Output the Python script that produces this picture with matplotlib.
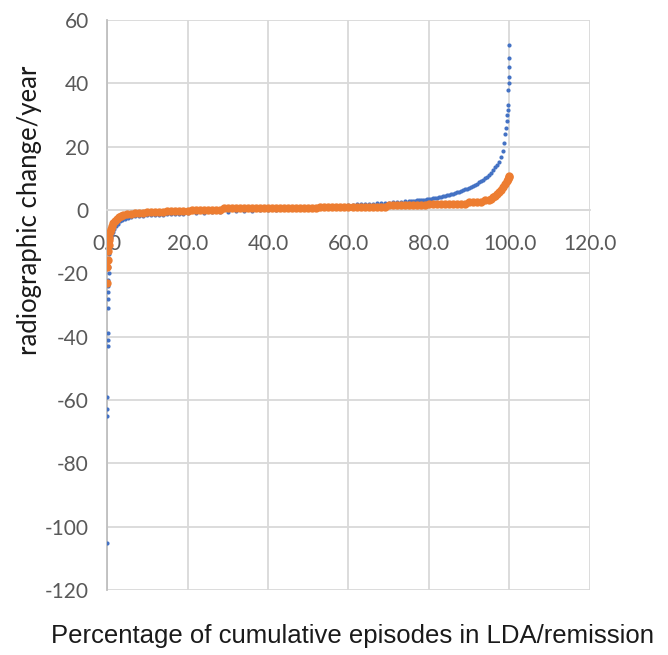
import matplotlib
matplotlib.use("Agg")
import matplotlib.pyplot as plt

plt.rcParams['axes.unicode_minus'] = False

# ---------------- data ----------------
x_ticks = [0, 20, 40, 60, 80, 100, 120]
y_ticks = [-120, -100, -80, -60, -40, -20, 0, 20, 40, 60]

blue_pct = [0.00, 0.05, 0.08, 0.11, 0.14, 0.17, 0.20, 0.23, 0.26, 0.29, 0.32, 0.36, 0.40,
            0.45, 0.50, 0.60, 0.70, 0.80, 1.0, 1.2, 1.5, 1.8, 2.2, 2.7, 3.2, 3.8, 4.5,
            5.2, 6.0, 7, 8, 9, 10, 11, 12, 13, 14, 15, 16, 17, 18, 19, 20, 22, 24, 26,
            28, 30, 32, 34, 36, 38, 40, 42, 44, 46, 48, 50, 52, 54, 56, 58, 60, 61, 62,
            63, 64, 65, 66, 67, 68, 69, 70, 71, 72, 73, 74, 75, 75.5, 76, 76.5, 77, 77.5,
            78, 78.5, 79, 79.5, 80, 80.5, 81, 81.5, 82, 82.5, 83, 83.5, 84, 84.5, 85,
            85.5, 86, 86.5, 87, 87.5, 88, 88.5, 89, 89.5, 90, 90.5, 91, 91.5, 92, 92.5,
            93, 93.5, 94, 94.5, 95, 95.5, 96, 96.5, 97, 97.5, 98, 98.3, 98.6, 98.9, 99.1,
            99.3, 99.45, 99.55, 99.65, 99.75, 99.82, 99.88, 99.93, 99.97, 100]
blue_val = [-105, -65, -63, -59, -43, -41, -39, -31, -28, -26, -24, -22, -20,
            -18, -16, -14, -12, -10.5, -9, -8, -7, -6, -5, -4.3, -3.6, -3.1, -2.7,
            -2.4, -2.2, -2.0, -1.85, -1.75, -1.65, -1.6, -1.55, -1.5, -1.45, -1.4, -1.35, -1.3, -1.25, -1.2, -1.1, -0.9, -0.8, -0.7,
            -0.6, -0.5, -0.4, -0.3, -0.2, -0.1, 0.0, 0.1, 0.2, 0.3, 0.4, 0.6, 0.8, 1.0, 1.2, 1.4, 1.6, 1.7, 1.8,
            1.9, 1.95, 2.0, 2.05, 2.1, 2.15, 2.2, 2.3, 2.4, 2.5, 2.6, 2.7, 2.8, 2.85, 2.9, 2.95, 3.0, 3.05,
            3.1, 3.2, 3.3, 3.4, 3.5, 3.6, 3.7, 3.8, 3.9, 4.0, 4.15, 4.3, 4.45, 4.6, 4.8,
            5.0, 5.2, 5.4, 5.6, 5.8, 6.0, 6.25, 6.5, 6.75, 7.0, 7.3, 7.6, 7.9, 8.3, 8.7,
            9.1, 9.5, 10.0, 10.5, 11.1, 11.8, 12.6, 13.5, 14.3, 15.3, 16.8, 18.5, 21, 24, 26,
            28, 30, 31.5, 33, 38, 40, 42, 45, 48, 52]

orange_pct = [0.0, 0.1, 0.2, 0.3, 0.4, 0.5, 0.6, 0.8, 1.0, 1.3, 1.6, 2.0, 2.5, 3.0, 3.5, 4.0,
              5, 6, 7, 8, 9, 10, 11, 12, 13, 14, 15, 16, 17, 18, 19, 20,
              21, 22, 23, 24, 25, 26, 27, 28,
              29, 30, 31, 32, 33, 34, 35, 36, 37, 38, 39, 40, 41, 42, 43, 44, 45, 46, 47, 48,
              49, 50, 51, 52,
              53, 54, 55, 56, 57, 58, 59, 60, 61, 62, 63, 64, 65, 66, 67, 68, 69,
              70, 71, 72, 73, 74, 75, 76, 77, 78, 79,
              80, 81, 82, 83, 84, 85, 86, 87, 88, 89,
              90, 91, 92, 93, 94, 95, 95.5, 96, 96.5, 97, 97.5, 98, 98.5, 99, 99.3, 99.6, 99.8, 100]
orange_val = [-23, -18, -15.8, -13, -11, -9.5, -8.5, -7, -6, -5, -4.2, -3.5, -2.8, -2.3, -2.0, -1.7,
              -1.4, -1.2, -1.0, -0.9, -0.8, -0.7, -0.65, -0.6, -0.55, -0.5, -0.45, -0.4, -0.35, -0.3, -0.25, -0.2,
              0.0, 0.0, 0.0, 0.0, 0.0, 0.0, 0.0, 0.0,
              0.5, 0.5, 0.5, 0.5, 0.5, 0.5, 0.5, 0.5, 0.5, 0.5, 0.5, 0.5, 0.5, 0.5, 0.5, 0.5, 0.5, 0.5, 0.5, 0.5,
              0.5, 0.5, 0.5, 0.5,
              1.0, 1.0, 1.0, 1.0, 1.0, 1.0, 1.0, 1.0, 1.0, 1.0, 1.0, 1.0, 1.0, 1.0, 1.0, 1.0, 1.0,
              1.5, 1.5, 1.5, 1.5, 1.5, 1.5, 1.5, 1.5, 1.5, 1.5,
              2.0, 2.0, 2.0, 2.0, 2.0, 2.0, 2.0, 2.0, 2.0, 2.0,
              2.5, 2.5, 2.5, 2.5, 3.0, 3.3, 3.6, 4.0, 4.5, 5.0, 5.6, 6.3, 7.2, 8.3, 9.0, 9.8, 10.3, 10.8]

x_label = "Percentage of cumulative episodes in LDA/remission"
y_label = "radiographic change/year"

# ---------------- figure ----------------
W, H = 668, 655
fig = plt.figure(figsize=(W / 100, H / 100), dpi=100)
ax = fig.add_axes([107 / W, 1 - 590 / H, (590 - 107) / W, (590 - 20) / H])

grid_c = "#d9d9d9"
tick_c = "#595959"

ax.scatter(blue_pct, blue_val, s=9, color="#4472C4", linewidths=0, zorder=3)
ax.scatter(orange_pct, orange_val, s=36, color="#ED7D31", linewidths=0, zorder=4)

ax.set_xlim(0, 120)
ax.set_ylim(-120, 60)
ax.set_xticks(x_ticks)
ax.set_yticks(y_ticks)
ax.set_xticklabels([f"{v:.1f}" for v in x_ticks])
ax.set_yticklabels([str(v) for v in y_ticks])

ax.grid(True, color=grid_c, linewidth=1.3, zorder=0)
ax.set_axisbelow(True)

for s in ["top", "right"]:
    ax.spines[s].set_visible(False)
ax.spines["left"].set_color("#bfbfbf")
ax.spines["left"].set_linewidth(1.3)
ax.spines["bottom"].set_position(("data", 0))
ax.spines["bottom"].set_color(grid_c)
ax.spines["bottom"].set_linewidth(1.3)

ax.tick_params(axis="both", length=0, colors=tick_c, labelsize=15)
ax.tick_params(axis="y", pad=13)
ax.tick_params(axis="x", pad=17)
for lab in ax.get_xticklabels() + ax.get_yticklabels():
    lab.set_fontfamily("Lato")

fig.text(352 / W, 1 - 636 / H, x_label, ha="center", va="center",
         fontsize=18.5, family="Liberation Sans", color="#1a1a1a")
fig.text(30 / W, 1 - 210 / H, y_label, ha="center", va="center", rotation=90,
         fontsize=18.5, family="Lato", color="#1a1a1a")

fig.savefig("out.png", dpi=100)
